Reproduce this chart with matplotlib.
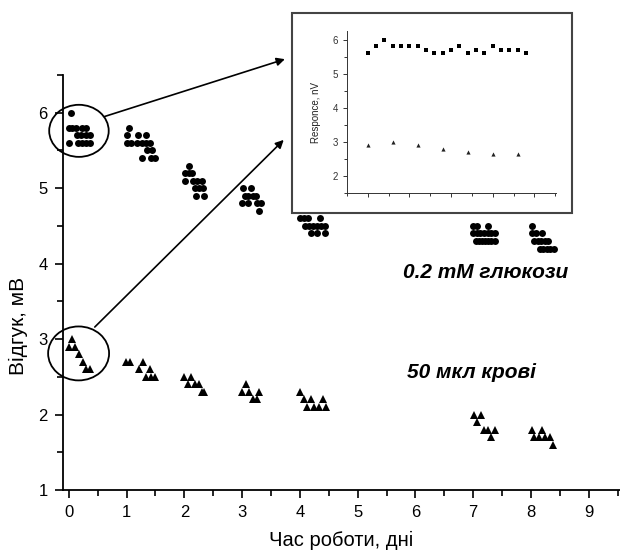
import matplotlib
matplotlib.use('Agg')
import matplotlib.pyplot as plt
from matplotlib.patches import Ellipse, Rectangle
from matplotlib.ticker import MultipleLocator

plt.rcParams['font.family'] = ['Liberation Sans', 'DejaVu Sans']

# 0.2 mM глюкози (кружки): час, дні / відгук, мВ
gluc_x = [0.03,
          0.0, 0.06, 0.12, 0.23, 0.30,
          0.14, 0.22, 0.29, 0.36,
          0.0, 0.16, 0.23, 0.30, 0.37,
          1.04,
          1.01, 1.20, 1.33,
          1.00, 1.07, 1.18, 1.26, 1.33, 1.40,
          1.35, 1.44,
          1.27, 1.43, 1.50,
          2.08,
          2.01, 2.08, 2.13,
          2.02, 2.15, 2.22, 2.30,
          2.18, 2.25, 2.32,
          2.21, 2.34,
          3.02, 3.15,
          3.05, 3.11, 3.19, 3.24,
          2.99, 3.10, 3.25, 3.32,
          3.29,
          4.00, 4.07, 4.14, 4.34,
          4.08, 4.16, 4.23, 4.30, 4.37, 4.43,
          4.20, 4.29, 4.43,
          7.00, 7.06, 7.25,
          7.00, 7.06, 7.12, 7.18, 7.25, 7.31, 7.37,
          7.05, 7.10, 7.15, 7.20, 7.25, 7.31, 7.37,
          8.02,
          8.02, 8.08, 8.19,
          8.05, 8.12, 8.18, 8.24, 8.30,
          8.15, 8.21, 8.27, 8.33, 8.40]
gluc_y = [6.0,
          5.8, 5.8, 5.8, 5.8, 5.8,
          5.7, 5.7, 5.7, 5.7,
          5.6, 5.6, 5.6, 5.6, 5.6,
          5.8,
          5.7, 5.7, 5.7,
          5.6, 5.6, 5.6, 5.6, 5.6, 5.6,
          5.5, 5.5,
          5.4, 5.4, 5.4,
          5.3,
          5.2, 5.2, 5.2,
          5.1, 5.1, 5.1, 5.1,
          5.0, 5.0, 5.0,
          4.9, 4.9,
          5.0, 5.0,
          4.9, 4.9, 4.9, 4.9,
          4.8, 4.8, 4.8, 4.8,
          4.7,
          4.6, 4.6, 4.6, 4.6,
          4.5, 4.5, 4.5, 4.5, 4.5, 4.5,
          4.4, 4.4, 4.4,
          4.5, 4.5, 4.5,
          4.4, 4.4, 4.4, 4.4, 4.4, 4.4, 4.4,
          4.3, 4.3, 4.3, 4.3, 4.3, 4.3, 4.3,
          4.5,
          4.4, 4.4, 4.4,
          4.3, 4.3, 4.3, 4.3, 4.3,
          4.2, 4.2, 4.2, 4.2, 4.2]

# 50 мкл крові (трикутники)
blood_x = [0.06, 0.0, 0.11, 0.18, 0.24, 0.29, 0.36,
           0.99, 1.06, 1.29, 1.22, 1.40, 1.33, 1.42, 1.50,
           2.00, 2.12, 2.06, 2.19, 2.25, 2.30, 2.34,
           3.06, 3.00, 3.12, 3.30, 3.18, 3.25,
           4.01, 4.07, 4.19, 4.40, 4.12, 4.24, 4.33, 4.45,
           7.01, 7.13, 7.06, 7.18, 7.25, 7.37, 7.31,
           8.02, 8.19, 8.06, 8.13, 8.25, 8.32, 8.38]
blood_y = [3.0, 2.9, 2.9, 2.8, 2.7, 2.6, 2.6,
           2.7, 2.7, 2.7, 2.6, 2.6, 2.5, 2.5, 2.5,
           2.5, 2.5, 2.4, 2.4, 2.4, 2.3, 2.3,
           2.4, 2.3, 2.3, 2.3, 2.2, 2.2,
           2.3, 2.2, 2.2, 2.2, 2.1, 2.1, 2.1, 2.1,
           2.0, 2.0, 1.9, 1.8, 1.8, 1.8, 1.7,
           1.8, 1.8, 1.7, 1.7, 1.7, 1.7, 1.6]

# вставка: послідовні вимірювання першого дня
inset_sq = [5.6, 5.8, 6.0, 5.8, 5.8, 5.8, 5.8, 5.7, 5.6, 5.6,
            5.7, 5.8, 5.6, 5.7, 5.6, 5.8, 5.7, 5.7, 5.7, 5.6]
inset_tri_idx = [0, 3, 6, 9, 12, 15, 18]
inset_tri = [2.9, 3.0, 2.9, 2.8, 2.7, 2.63, 2.63]

x_ticks = list(range(10))
y_ticks = [1, 2, 3, 4, 5, 6]

fig = plt.figure(figsize=(6.2, 5.54), dpi=100)
ax = fig.add_axes([63 / 620, 64 / 554, 557 / 620, 415 / 554])

ax.plot(gluc_x, gluc_y, 'o', color='black', markersize=5, markeredgewidth=0)
ax.plot(blood_x, blood_y, '^', color='black', markersize=6, markeredgewidth=0)

ax.set_xlim(-0.1, 9.54)
ax.set_ylim(1, 6.5)
ax.set_xticks(x_ticks)
ax.set_yticks(y_ticks)
ax.xaxis.set_minor_locator(MultipleLocator(0.5))
ax.yaxis.set_minor_locator(MultipleLocator(0.5))
ax.tick_params(which='major', direction='out', length=6, width=1.2, labelsize=12, pad=5)
ax.tick_params(which='minor', direction='out', length=4, width=1.2)
for s in ['top', 'right']:
    ax.spines[s].set_visible(False)
for s in ['left', 'bottom']:
    ax.spines[s].set_linewidth(1.3)

ax.set_xlabel('Час роботи, дні', fontsize=14.5, labelpad=8)
ax.set_ylabel('Відгук, мВ', fontsize=15)
ax.yaxis.set_label_coords(-0.062, 0.395)

# еліпси навколо першого дня
ax.add_patch(Ellipse((0.176, 5.76), 1.03, 0.69, fill=False, lw=1.3, clip_on=False))
ax.add_patch(Ellipse((0.17, 2.81), 1.055, 0.715, fill=False, lw=1.3, clip_on=False))

# стрілки до вставки
arrow = dict(arrowstyle='-|>', color='black', lw=1.2, mutation_scale=12, shrinkA=0, shrinkB=0)
ax.annotate('', xy=(3.74, 6.71), xytext=(0.62, 5.95), arrowprops=arrow, annotation_clip=False)
ax.annotate('', xy=(3.72, 5.64), xytext=(0.45, 3.16), arrowprops=arrow, annotation_clip=False)

# підписи серій
fig.text(403 / 620, 1 - 272 / 554, '0.2 mM глюкози', fontsize=15, fontweight='bold',
         fontstyle='italic', ha='left', va='center')
fig.text(407 / 620, 1 - 372 / 554, '50 мкл крові', fontsize=15, fontweight='bold',
         fontstyle='italic', ha='left', va='center')

# рамка вставки
box = Rectangle((292 / 620, 1 - 213 / 554), 280 / 620, 200 / 554, transform=fig.transFigure,
                facecolor='white', edgecolor='#444444', lw=1.5, zorder=1)
fig.patches.append(box)

ins = fig.add_axes([347 / 620, 1 - 193 / 554, 209 / 620, 162 / 554])
ins.set_zorder(2)
ins.patch.set_visible(False)
ins.plot(range(len(inset_sq)), inset_sq, 's', color='black', markersize=2.8, markeredgewidth=0)
ins.plot(inset_tri_idx, inset_tri, '^', color='#222222', markersize=3, markeredgewidth=0)
ins.set_xlim(-2.5, 22.6)
ins.set_ylim(1.5, 6.25)
ins.set_xticks([0, 5, 10, 15, 20])
ins.set_xticklabels([])
ins.xaxis.set_minor_locator(MultipleLocator(2.5))
ins.set_yticks([2, 3, 4, 5, 6])
ins.yaxis.set_minor_locator(MultipleLocator(0.5))
ins.tick_params(which='major', direction='out', length=3, width=0.7, labelsize=7, colors='#333333')
ins.tick_params(which='minor', direction='out', length=2, width=0.7, colors='#333333')
for s in ['top', 'right']:
    ins.spines[s].set_visible(False)
for s in ['left', 'bottom']:
    ins.spines[s].set_linewidth(0.7)
    ins.spines[s].set_color('#333333')
ins.set_ylabel('Responce, nV', fontsize=7, color='#222222', labelpad=8)

fig.savefig('out.png', dpi=100)
